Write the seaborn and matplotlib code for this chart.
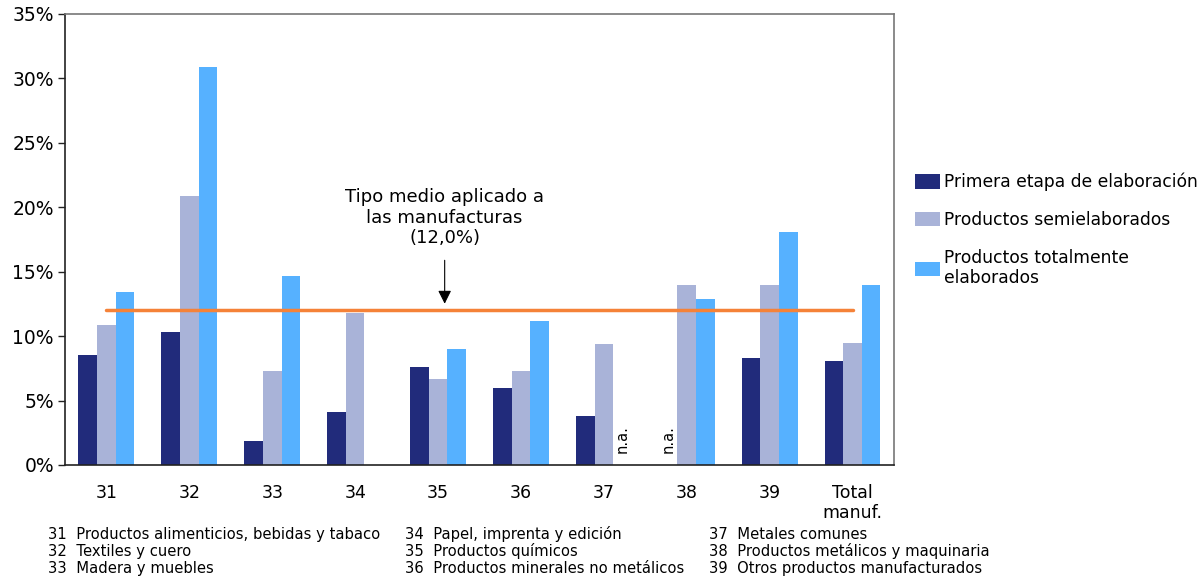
import numpy as np
import pandas as pd
import matplotlib
matplotlib.use("Agg")
import matplotlib.pyplot as plt
import seaborn as sns
from matplotlib.patches import Patch
from matplotlib.ticker import FixedLocator

# Tariff rates by ISIC sector and processing stage (%)
categories = ["31", "32", "33", "34", "35", "36", "37", "38", "39", "Total\nmanuf."]
primera = [8.5, 10.3, 1.9, 4.1, 7.6, 6.0, 3.8, np.nan, 8.3, 8.1]
semielaborados = [10.9, 20.9, 7.3, 11.8, 6.7, 7.3, 9.4, 14.0, 14.0, 9.5]
totalmente = [13.4, 30.9, 14.7, np.nan, 9.0, 11.2, np.nan, 12.9, 18.1, 14.0]
series_names = ["Primera etapa de elaboración", "Productos semielaborados",
                "Productos totalmente\nelaborados"]
tipo_medio = 12.0
yticks = [0, 5, 10, 15, 20, 25, 30, 35]
footnotes = [
    ["31  Productos alimenticios, bebidas y tabaco", "32  Textiles y cuero", "33  Madera y muebles"],
    ["34  Papel, imprenta y edición", "35  Productos químicos", "36  Productos minerales no metálicos"],
    ["37  Metales comunes", "38  Productos metálicos y maquinaria", "39  Otros productos manufacturados"],
]

colors = ["#212B7B", "#A9B3D8", "#56B1FF"]
orange = "#F58238"

rows = []
for name, vals in zip(series_names, [primera, semielaborados, totalmente]):
    for c, v in zip(categories, vals):
        rows.append({"cat": c, "serie": name, "valor": v})
df = pd.DataFrame(rows)

sns.set_style("white")
plt.rcParams["font.family"] = ["DejaVu Sans"]
plt.rcParams["text.color"] = "black"
plt.rcParams["xtick.labelcolor"] = "black"
plt.rcParams["ytick.labelcolor"] = "black"

fig = plt.figure(figsize=(12.04, 5.80), dpi=100)
ax = fig.add_axes([0.054, 0.1983, 0.6885, 0.7776])

sns.barplot(data=df, x="cat", y="valor", hue="serie", order=categories,
            hue_order=series_names, palette=colors, width=0.675, gap=0,
            linewidth=0, saturation=1, legend=False, ax=ax)

ax.set_xlim(-0.5, len(categories) - 0.5)
ax.set_ylim(0, 35)
ax.set_yticks(yticks)
ax.set_yticklabels([f"{v}%" for v in yticks], fontsize=13.5)
ax.set_xlabel("")
ax.set_ylabel("")

# category labels centred, tick marks between categories
ax.set_xticks(range(len(categories)))
ax.set_xticklabels(categories, fontsize=12.5, va="top", linespacing=1.1)
ax.tick_params(axis="x", which="major", length=0, pad=14)
ax.xaxis.set_minor_locator(FixedLocator(np.arange(-0.5, len(categories), 1.0)))
ax.tick_params(axis="x", which="minor", length=5, width=1, color="#222222", direction="out")
ax.tick_params(axis="y", length=5, width=1, color="#222222", direction="out", left=True, pad=3)

for side in ["left", "bottom"]:
    ax.spines[side].set_color("#222222")
    ax.spines[side].set_linewidth(1.2)
for side in ["top", "right"]:
    ax.spines[side].set_color("#777777")
    ax.spines[side].set_linewidth(1.2)

# average applied rate
ax.plot([0, len(categories) - 1], [tipo_medio, tipo_medio], color=orange, lw=2.5, zorder=5)
ax.annotate("", xy=(4.08, tipo_medio + 0.3), xytext=(4.08, tipo_medio + 4.1),
            arrowprops=dict(arrowstyle="-|>", color="black", lw=0.8,
                            mutation_scale=20), zorder=6)
ax.text(4.08, 19.2, f"Tipo medio aplicado a\nlas manufacturas\n({tipo_medio:.1f}%)".replace(".", ","),
        ha="center", va="center", fontsize=13, linespacing=1.15)

# missing-data markers
off = 0.675 / 3
for i, vals in enumerate([primera, semielaborados, totalmente]):
    for j, v in enumerate(vals):
        if np.isnan(v) and categories[j] in ("37", "38"):
            ax.text(j + (i - 1) * off, 0.9, "n.a.", rotation=90, ha="center",
                    va="bottom", fontsize=10.5)

# legend
handles = [Patch(facecolor=c, edgecolor="none") for c in colors]
fig.legend(handles, series_names, loc="upper left", bbox_to_anchor=(0.760, 0.702),
           frameon=False, fontsize=12.3, handlelength=1.45, handleheight=0.93,
           handletextpad=0.25, labelspacing=1.15, borderpad=0, borderaxespad=0)

# sector key
col_x = [0.040, 0.336, 0.589]
for cx, col in zip(col_x, footnotes):
    for k, line in enumerate(col):
        fig.text(cx, 0.079 - k * 0.0295, line, fontsize=10.6, va="center", ha="left")

fig.savefig("out.png", dpi=100)
